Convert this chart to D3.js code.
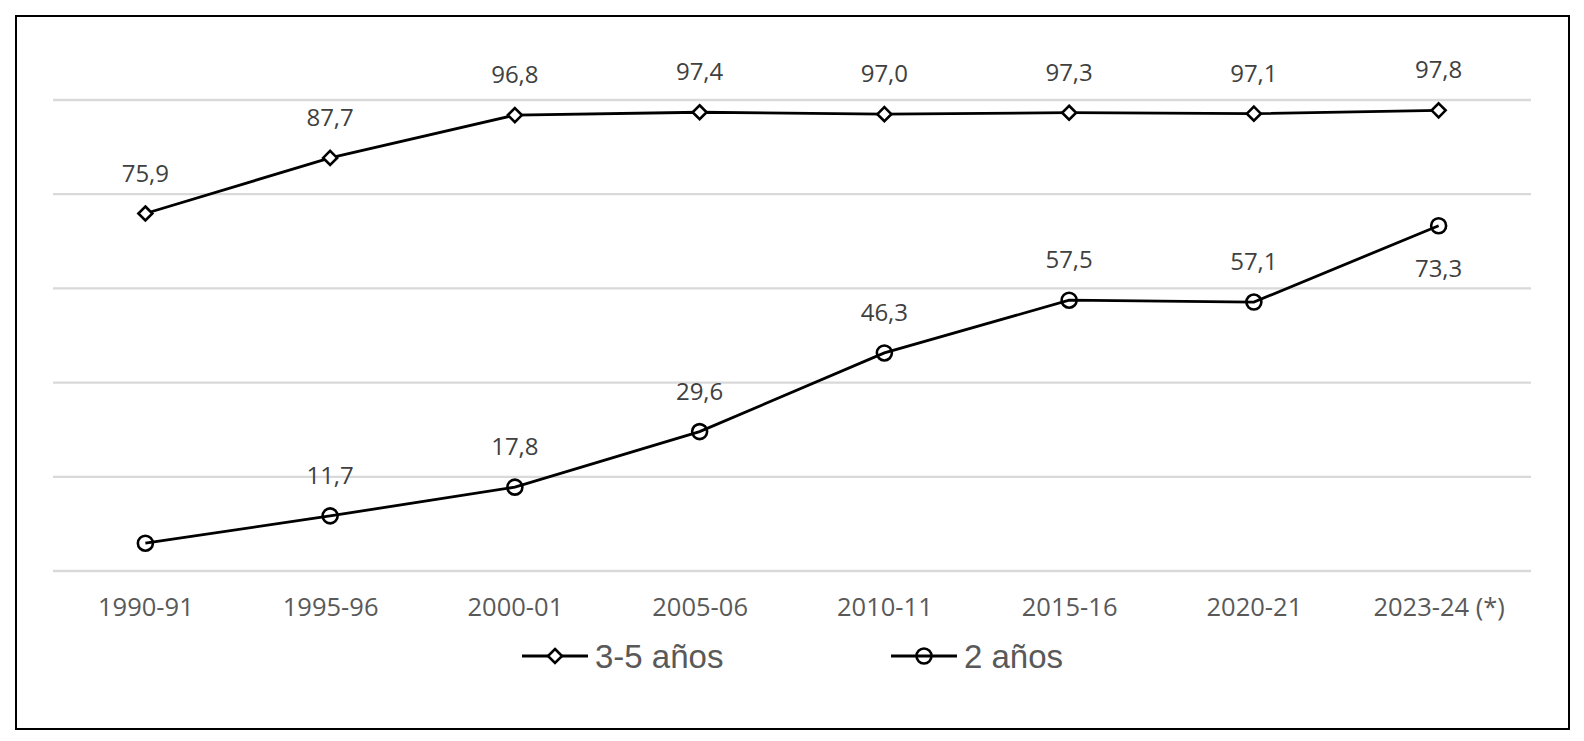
<!DOCTYPE html>
<html>
<head>
<meta charset="utf-8">
<script src="https://cdn.jsdelivr.net/npm/d3@7"></script>
<style>
  body { margin: 0; background: #fff; }
  svg { display: block; }
</style>
</head>
<body>
<svg id="chart"></svg>
<script>
const categories = ["1990-91", "1995-96", "2000-01", "2005-06", "2010-11", "2015-16", "2020-21", "2023-24 (*)"];
const serie35 = [75.9, 87.7, 96.8, 97.4, 97.0, 97.3, 97.1, 97.8];
const serie2 = [5.9, 11.7, 17.8, 29.6, 46.3, 57.5, 57.1, 73.3];
// which points carry a label, and where
const labels2 = [null, "above", "above", "above", "above", "above", "above", "below"];
const gridTicks = [0, 20, 40, 60, 80, 100];

const W = 1584, H = 741;
const svg = d3.select("#chart").attr("width", W).attr("height", H);

// outer frame
svg.append("rect")
   .attr("x", 16).attr("y", 16)
   .attr("width", 1553).attr("height", 713)
   .attr("fill", "none").attr("stroke", "#000").attr("stroke-width", 2);

const x = d3.scalePoint().domain(categories).range([53, 1531]).padding(0.5);
const y = d3.scaleLinear().domain([0, 100]).range([571, 100]);

// gridlines
svg.append("g").selectAll("line")
   .data(gridTicks)
   .join("line")
   .attr("x1", 53).attr("x2", 1531)
   .attr("y1", d => y(d)).attr("y2", d => y(d))
   .attr("stroke", "#d9d9d9").attr("stroke-width", 2.3);

// x axis labels
const xAxis = d3.axisBottom(x).tickSize(0).tickPadding(0);
const gx = svg.append("g").attr("transform", "translate(0,599)").call(xAxis);
gx.select(".domain").remove();
gx.selectAll("text")
  .attr("font-family", "Open Sans")
  .attr("font-size", 25.5)
  .attr("fill", "#595959")
  .attr("dy", "0.68em");

const line = d3.line().x((d, i) => x(categories[i])).y(d => y(d));

function drawSeries(values, marker) {
  svg.append("path")
     .datum(values)
     .attr("d", line)
     .attr("fill", "none")
     .attr("stroke", "#000")
     .attr("stroke-width", 2.8);

  const g = svg.append("g");
  values.forEach((v, i) => {
    drawMarker(g, marker, x(categories[i]), y(v));
  });
}

function drawMarker(g, marker, cx, cy) {
  if (marker === "diamond") {
    const s = 7;
    g.append("path")
     .attr("d", `M${cx},${cy - s}L${cx + s},${cy}L${cx},${cy + s}L${cx - s},${cy}Z`)
     .attr("fill", "#fff").attr("stroke", "#000").attr("stroke-width", 2.6);
  } else {
    g.append("circle")
     .attr("cx", cx).attr("cy", cy).attr("r", 7.5)
     .attr("fill", "none").attr("stroke", "#000").attr("stroke-width", 2.6);
  }
}

drawSeries(serie35, "diamond");
drawSeries(serie2, "circle");

const fmt = v => d3.format(".1f")(v).replace(".", ",");

function drawLabels(values, places) {
  svg.append("g").selectAll("text")
     .data(values.map((v, i) => ({ v, i, p: places ? places[i] : "above" })).filter(d => d.p))
     .join("text")
     .attr("x", d => x(categories[d.i]))
     .attr("y", d => d.p === "above" ? y(d.v) - 32 : y(d.v) + 51)
     .attr("text-anchor", "middle")
     .attr("font-family", "Open Sans")
     .attr("font-size", 24)
     .attr("fill", "#404040")
     .text(d => fmt(d.v));
}

drawLabels(serie35, null);
drawLabels(serie2, labels2);

// legend
const legend = [
  { name: "3-5 años", marker: "diamond", x0: 522 },
  { name: "2 años", marker: "circle", x0: 891 }
];
const lg = svg.append("g");
legend.forEach(d => {
  lg.append("line")
    .attr("x1", d.x0).attr("x2", d.x0 + 66)
    .attr("y1", 656).attr("y2", 656)
    .attr("stroke", "#000").attr("stroke-width", 2.8);
  drawMarker(lg, d.marker, d.x0 + 33, 656);
  lg.append("text")
    .attr("x", d.x0 + 73).attr("y", 668)
    .attr("font-family", "Liberation Sans, Arial")
    .attr("font-size", 33)
    .attr("fill", "#595959")
    .text(d.name);
});
</script>
</body>
</html>
